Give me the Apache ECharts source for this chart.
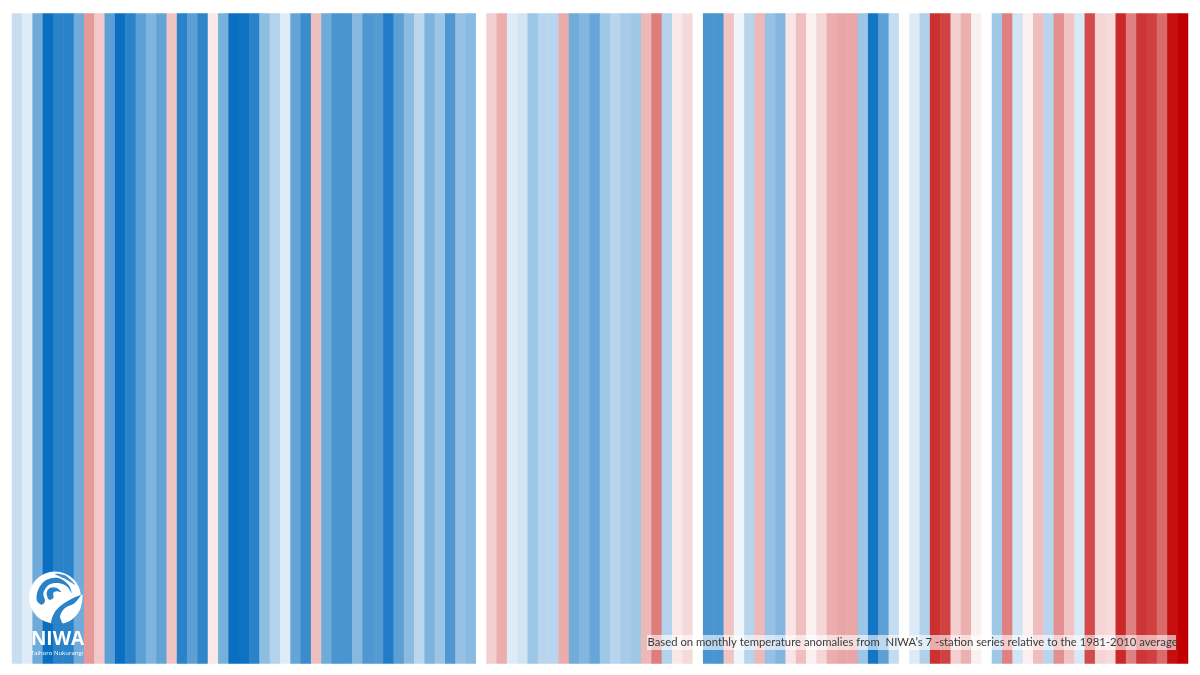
<!DOCTYPE html>
<html><head><meta charset="utf-8">
<style>html,body{margin:0;padding:0;background:#fff}#c{width:1200px;height:675px}</style>
<script src="https://cdn.jsdelivr.net/npm/echarts@6/dist/echarts.min.js"></script>
</head><body><div id="c"></div>
<script>
const firstYear = 1909;
// Estimated anomalies (°C), read from the stripe colours
const anomalies = [
-.23,-.13,-.59,-1,-.87,-.87,-.58,.40,.21,-.67,-1,-.87,-.66,-.52,-.64,.23,-.87,-.67,-.85,.09,
-.55,-1,-.98,-.87,-.46,-.31,-.13,-.63,-.80,.25,-.59,-.74,-.74,-.49,-.72,-.70,-.91,-.67,-.47,-.28,
-.53,-.40,-.72,-.43,-.48,0,.19,.32,-.13,-.19,-.40,-.29,-.29,.33,-.58,-.51,-.62,-.39,-.29,-.36,
-.39,.28,.51,-.31,.09,.15,0,-.74,-.74,.23,-.07,-.30,.28,-.43,-.51,.10,.25,.06,.16,.32,
.35,.35,-.40,-.96,-.66,-.24,0,-.14,-.32,.81,.74,.19,.31,.06,0,-.39,.50,-.19,.06,.26,
-.29,.44,.23,-.16,.71,.17,.15,.84,.50,.79,.75,.58,.94,1];
const years = anomalies.map((_, i) => String(firstYear + i));
const rows = ['anomaly'];
const stripeColors = ['#0a6fc0', '#ffffff', '#c00000'];
const footnote = "Based on monthly temperature anomalies from  NIWA\u2019s 7 -station series relative to the 1981-2010 average";
const logoName = 'NIWA';
const logoSub = 'Taihoro Nukurangi';

// logo outline, as points of a crop 3x enlarged with origin (25,568)
const pts = a => a.map(p => [25 + p[0] / 3, 568 + p[1] / 3]);
const swirlOuter = [[35,95],[42,60],[65,35],[100,30],[130,50],[140,75],[125,55],[100,45],[72,50],[55,75],[60,100],[50,110]];
const swirlInner = [[65,75],[75,60],[95,60],[108,72],[95,70],[85,75],[85,90],[72,95]];
const swirlTop = [[90,18],[120,22],[150,50],[125,35]];
const crescent = [[80,168],[85,140],[105,115],[135,95],[168,82],[150,105],[120,120],[105,145],[110,165]];
const blue = (arr, fill) => ({type:'polygon',z:100,shape:{points:pts(arr),smooth:0.35},style:{fill}});

const chart = echarts.init(document.getElementById('c'), null, {renderer:'canvas'});
chart.setOption({
  animation:false,
  backgroundColor:'#ffffff',
  grid:{left:12,right:12,top:13.5,bottom:11.5,containLabel:false},
  xAxis:{type:'category',data:years,show:false},
  yAxis:{type:'category',data:rows,show:false},
  visualMap:{show:false,type:'continuous',min:-1,max:1,dimension:2,inRange:{color:stripeColors}},
  series:[{type:'heatmap',data:anomalies.map((v,i)=>[i,0,v]),itemStyle:{borderWidth:0},progressive:0}],
  graphic:[
    {type:'circle',z:99,shape:{cx:55,cy:597.5,r:26},style:{fill:'#ffffff'}},
    blue(swirlOuter,'#2a82c8'),
    blue(swirlInner,'#2a82c8'),
    blue(swirlTop,'#3a8ed0'),
    blue(crescent,'#2a82c8'),
    {type:'polygon',z:100,shape:{points:pts([[112,165],[118,130],[150,105],[172,80],[165,125],[140,155]]),smooth:0.3},style:{fill:'#ffffff'}},
    {type:'text',z:100,style:{x:57.5,y:640,text:logoName,fill:'#ffffff',font:'bold 19px "Open Sans",sans-serif',align:'center',verticalAlign:'middle'}},
    {type:'text',z:100,style:{x:57,y:653,text:logoSub,fill:'#ffffff',font:'6px "Open Sans",sans-serif',align:'center',verticalAlign:'middle'}},
    {type:'rect',z:100,shape:{x:647,y:635,width:529,height:15},style:{fill:'rgba(255,255,255,0.6)'}},
    {type:'text',z:101,style:{x:647.5,y:642.5,text:footnote,fill:'#3a3a3a',font:'11.3px Lato,sans-serif',align:'left',verticalAlign:'middle'}}
  ]
});
</script></body></html>
